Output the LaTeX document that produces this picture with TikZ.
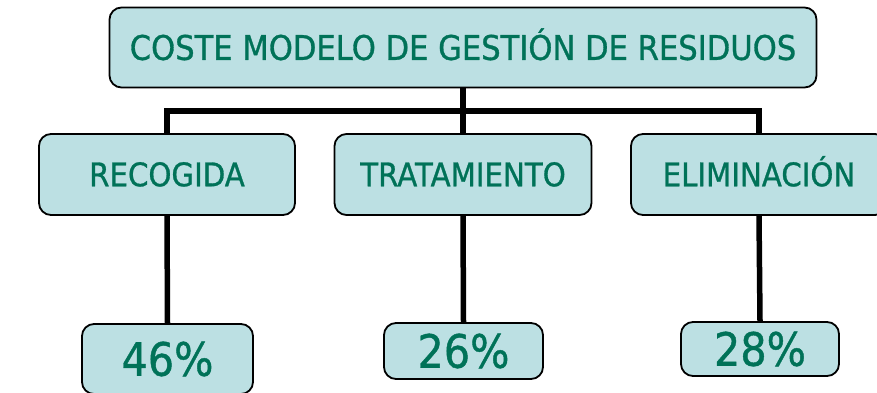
\documentclass[tikz,border=0pt]{standalone}
\usepackage{fontspec}
\setmainfont{DejaVu Sans}[FakeStretch=0.9,FakeBold=0.9]
\definecolor{boxfill}{RGB}{188,224,227}
\definecolor{txtgreen}{RGB}{0,114,88}
\begin{document}
\begin{tikzpicture}[x=1pt,y=-1pt,
  box/.style={draw=black,line width=1.8pt,fill=boxfill,rounded corners=12pt,
    inner sep=0pt,text=txtgreen,align=center,text depth=0pt},
  conn/.style={draw=black,line width=5.5pt}]
\useasboundingbox (0,0) rectangle (877,393);
\clip (0,0) rectangle (877,393);
\node[box,minimum width=707pt,minimum height=80pt,text height=24.8pt,font=\fontsize{34}{40}\selectfont] (top) at (463,47.5) {COSTE MODELO DE GESTIÓN DE RESIDUOS};
\node[box,minimum width=256pt,minimum height=81pt,text height=23.5pt,font=\fontsize{32.5}{40}\selectfont] (rec) at (167,174.5) {RECOGIDA};
\node[box,minimum width=257pt,minimum height=81pt,text height=23.5pt,font=\fontsize{32.5}{40}\selectfont] (tra) at (463,174.5) {TRATAMIENTO};
\node[box,minimum width=256pt,minimum height=81pt,text height=23.5pt,font=\fontsize{32.5}{40}\selectfont] (eli) at (759,174.5) {ELIMINACIÓN};
\node[box,minimum width=171pt,minimum height=70pt,text height=33.5pt,font=\fontsize{46}{52}\selectfont] (p46) at (167.5,359) {46\%};
\node[box,minimum width=159pt,minimum height=56pt,text height=33.5pt,font=\fontsize{46}{52}\selectfont] (p26) at (463.5,351) {26\%};
\node[box,minimum width=158pt,minimum height=54pt,text height=33.5pt,font=\fontsize{46}{52}\selectfont] (p28) at (760,349) {28\%};
\draw[conn] (top.south) -- (tra.north);
\draw[conn] (rec.north) -- ++(0,-22) -| (eli.north);
\draw[conn] (rec.south) -- (p46.north);
\draw[conn] (tra.south) -- (p26.north);
\draw[conn] (eli.south) -- (p28.north);
\end{tikzpicture}
\end{document}
